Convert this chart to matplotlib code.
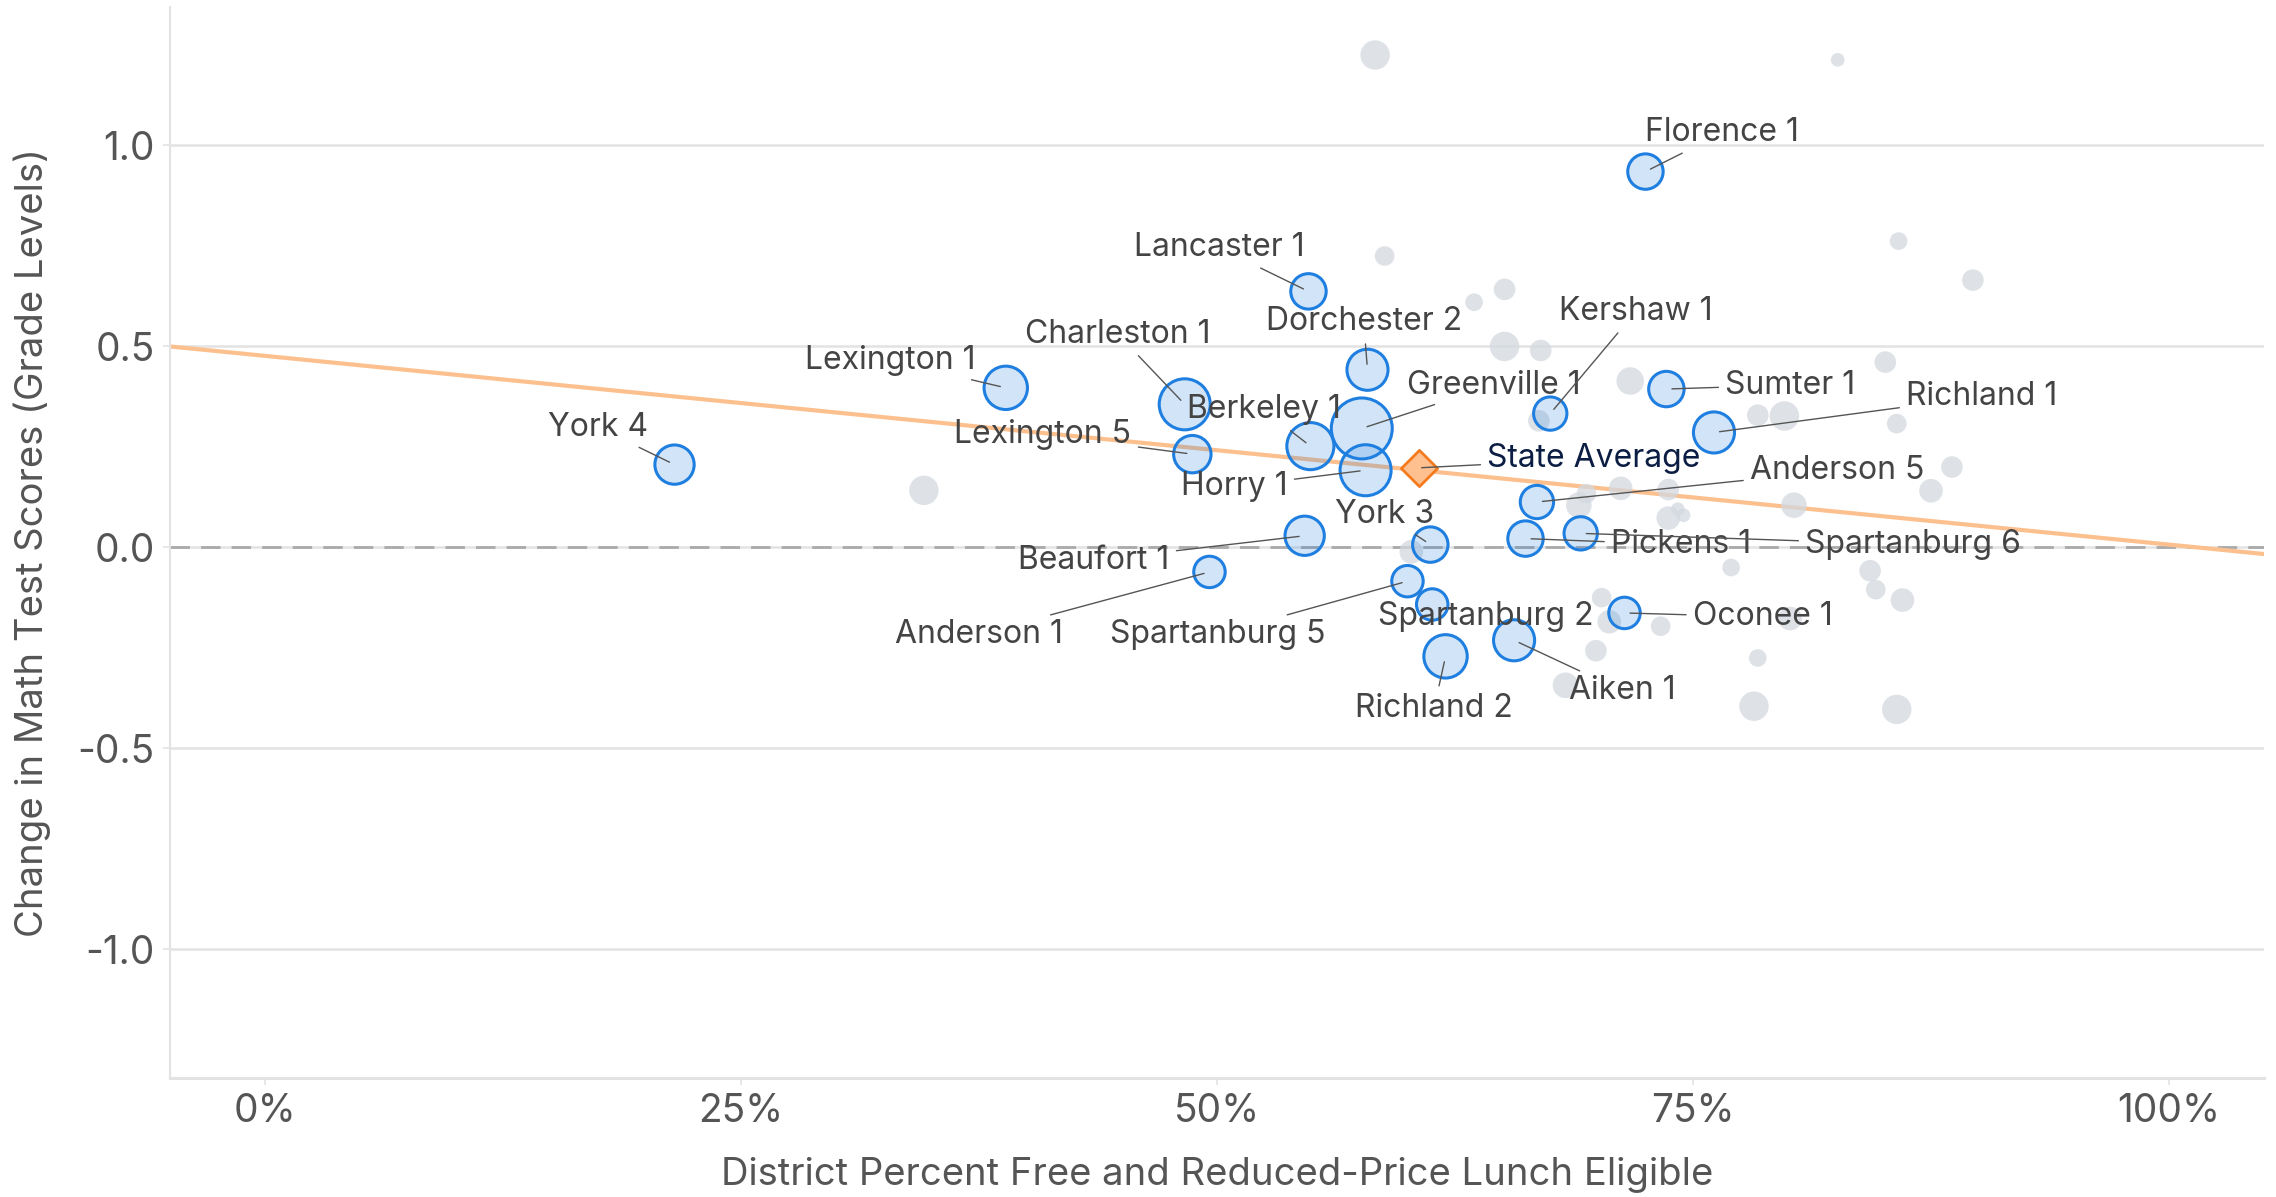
import matplotlib
matplotlib.use("Agg")
import matplotlib.pyplot as plt

# ---------------- data ----------------
districts = ["York 4", "Lexington 1", "Charleston 1", "Lexington 5", "Berkeley 1",
             "Lancaster 1", "Dorchester 2", "Greenville 1", "Horry 1", "York 3",
             "Beaufort 1", "Anderson 1", "Spartanburg 5", "Spartanburg 2", "Richland 2",
             "Aiken 1", "Florence 1", "Kershaw 1", "Sumter 1", "Richland 1",
             "Anderson 5", "Pickens 1", "Spartanburg 6", "Oconee 1"]
frl_pct = [21.5, 38.9, 48.3, 48.7, 54.9,
           54.8, 57.9, 57.6, 57.8, 61.2,
           54.6, 49.6, 60.0, 61.3, 62.0,
           65.6, 72.5, 67.5, 73.6, 76.1,
           66.8, 66.2, 69.1, 71.4]
math_change = [0.206, 0.397, 0.356, 0.232, 0.252,
               0.637, 0.442, 0.296, 0.192, 0.007,
               0.029, -0.061, -0.084, -0.142, -0.271,
               -0.231, 0.935, 0.333, 0.394, 0.286,
               0.113, 0.022, 0.035, -0.163]
enrollment = [32, 39, 54, 29, 46,
              26, 35, 77, 54, 26,
              32, 20.5, 20.5, 20.5, 39,
              35, 26, 23, 26, 35,
              23, 26, 23, 20.5]

other_frl_pct = [58.3, 82.6, 58.8, 85.8, 89.7, 63.5, 65.1, 65.1, 67.0, 71.7,
                 85.1, 34.6, 66.9, 78.4, 79.8, 85.7, 88.6, 87.5, 80.3, 71.2,
                 69.4, 69.0, 73.7, 73.7, 74.2, 74.5, 60.2, 77.0, 84.3, 84.6,
                 86.0, 70.2, 70.6, 73.3, 80.1, 69.9, 78.4, 68.3, 78.2, 85.7]
other_math_change = [1.225, 1.213, 0.725, 0.762, 0.665, 0.610, 0.642, 0.500, 0.490, 0.414,
                     0.461, 0.142, 0.315, 0.329, 0.327, 0.308, 0.200, 0.141, 0.105, 0.147,
                     0.134, 0.105, 0.144, 0.073, 0.095, 0.080, -0.011, -0.050, -0.058, -0.105,
                     -0.131, -0.125, -0.185, -0.196, -0.177, -0.257, -0.275, -0.343, -0.395, -0.403]
other_enrollment = [18, 3.9, 8, 6.5, 9.7, 6.5, 9.7, 18, 9.7, 15.7,
                    9.7, 18, 9.7, 9.7, 18, 8, 9.7, 11.6, 13.6, 11.6,
                    8, 13.6, 9.7, 11.6, 3.9, 3.9, 11.6, 6.5, 9.7, 8,
                    11.6, 8, 11.6, 8, 11.6, 9.7, 6.5, 13.6, 18, 18]

state_avg_label = "State Average"
state_avg_frl = 60.6
state_avg_change = 0.198

trend_intercept = 0.4765     # grade levels at 0% FRL
trend_slope = -0.004695      # grade levels per FRL percentage point

x_ticks = [0, 25, 50, 75, 100]
x_tick_labels = ["0%", "25%", "50%", "75%", "100%"]
y_ticks = [-1.0, -0.5, 0.0, 0.5, 1.0]
y_tick_labels = ["-1.0", "-0.5", "0.0", "0.5", "1.0"]

x_title = "District Percent Free and Reduced-Price Lunch Eligible"
y_title = "Change in Math Test Scores (Grade Levels)"

# ---------------- layout (label placement) ----------------
label_pos = {
    "York 4": (20.1, 0.299, "right"),
    "Lexington 1": (37.3, 0.465, "right"),
    "Charleston 1": (44.8, 0.530, "center"),
    "Lexington 5": (45.5, 0.281, "right"),
    "Berkeley 1": (48.4, 0.342, "left"),
    "Lancaster 1": (54.6, 0.745, "right"),
    "Dorchester 2": (57.7, 0.562, "center"),
    "Greenville 1": (60.0, 0.404, "left"),
    "Horry 1": (53.7, 0.151, "right"),
    "York 3": (58.8, 0.083, "center"),
    "Beaufort 1": (47.5, -0.032, "right"),
    "Anderson 1": (41.9, -0.216, "right"),
    "Spartanburg 5": (55.7, -0.216, "right"),
    "Spartanburg 2": (64.1, -0.173, "center"),
    "Richland 2": (61.4, -0.400, "center"),
    "Aiken 1": (68.5, -0.357, "left"),
    "Florence 1": (72.5, 1.031, "left"),
    "Kershaw 1": (72.0, 0.587, "center"),
    "Sumter 1": (76.7, 0.404, "left"),
    "Richland 1": (86.2, 0.375, "left"),
    "Anderson 5": (78.0, 0.191, "left"),
    "Pickens 1": (70.7, 0.007, "left"),
    "Spartanburg 6": (80.9, 0.007, "left"),
    "Oconee 1": (75.0, -0.173, "left"),
}
no_leader = {"Spartanburg 2"}
state_label_pos = (64.2, 0.220)

FONT = ["Inter", "DejaVu Sans"]
plt.rcParams["font.family"] = FONT

GRID = "#e3e3e3"
TICKC = "#555555"
BLUE = "#1f7fe0"
GRAY = "#d3d9e0"
ORANGE_LINE = "#fcc08f"
SIZE_SCALE = 25.0
LABEL_FS = 23

fig = plt.figure(figsize=(22.76, 11.97), dpi=100)
ax = fig.add_axes([0.0747, 0.0994, 0.9201, 0.8946])
ax.set_xlim(-5, 105)
ax.set_ylim(-1.32, 1.344)

# grid & spines
ax.set_yticks(y_ticks)
ax.set_yticklabels(y_tick_labels)
ax.set_xticks(x_ticks)
ax.set_xticklabels(x_tick_labels)
ax.yaxis.grid(True, color=GRID, linewidth=1.8, zorder=0)
ax.xaxis.grid(False)
ax.set_axisbelow(True)
for s in ("top", "right"):
    ax.spines[s].set_visible(False)
ax.spines["left"].set_color(GRID)
ax.spines["left"].set_linewidth(1.5)
ax.spines["bottom"].set_color(GRID)
ax.spines["bottom"].set_linewidth(2.2)
ax.tick_params(axis="both", colors=GRID, length=5, width=1.2, pad=6,
               labelsize=28, labelcolor=TICKC)

# zero line
ax.axhline(0, color="#aaaaaa", linewidth=2.0, linestyle=(0, (7, 4)), zorder=1)

# trend line
xs = [-5, 105]
ys = [trend_intercept + trend_slope * x for x in xs]
ax.plot(xs, ys, color=ORANGE_LINE, linewidth=3.0, zorder=2, solid_capstyle="butt")

# other districts
ax.scatter(other_frl_pct, other_math_change,
           s=[SIZE_SCALE * e for e in other_enrollment],
           color=GRAY, alpha=0.75, linewidths=0, zorder=3)

# highlighted districts
ax.scatter(frl_pct, math_change,
           s=[SIZE_SCALE * e for e in enrollment],
           facecolor=(31 / 255, 127 / 255, 224 / 255, 0.2), edgecolor=BLUE,
           linewidths=2.2, zorder=4)

# state average
ax.scatter([state_avg_frl], [state_avg_change], marker="D", s=340,
           facecolor="#fdc08e", edgecolor="#f47a1f", linewidths=2.0, zorder=5)

# labels
for name, x, y in zip(districts, frl_pct, math_change):
    lx, ly, ha = label_pos[name]
    if name in no_leader:
        ax.text(lx, ly, name, ha=ha, va="center", fontsize=LABEL_FS, color="#444444", zorder=6)
    else:
        ax.annotate(name, xy=(x, y), xytext=(lx, ly), ha=ha, va="center",
                    fontsize=LABEL_FS, color="#444444", zorder=6,
                    arrowprops=dict(arrowstyle="-", color="#555555", lw=1.0,
                                    shrinkA=3, shrinkB=4))

ax.annotate(state_avg_label, xy=(state_avg_frl, state_avg_change), xytext=state_label_pos,
            ha="left", va="center", fontsize=LABEL_FS, color="#0b1d42", zorder=6,
            arrowprops=dict(arrowstyle="-", color="#555555", lw=1.0, shrinkA=3, shrinkB=2))

ax.set_xlabel(x_title, fontsize=27.5, color=TICKC)
ax.set_ylabel(y_title, fontsize=27.5, color=TICKC)
ax.xaxis.set_label_coords(0.5, -0.091)
ax.xaxis.label.set_va("center")
ax.yaxis.set_label_coords(-0.0659, 0.5)
ax.yaxis.label.set_va("center")

fig.savefig("out.png", dpi=100)
